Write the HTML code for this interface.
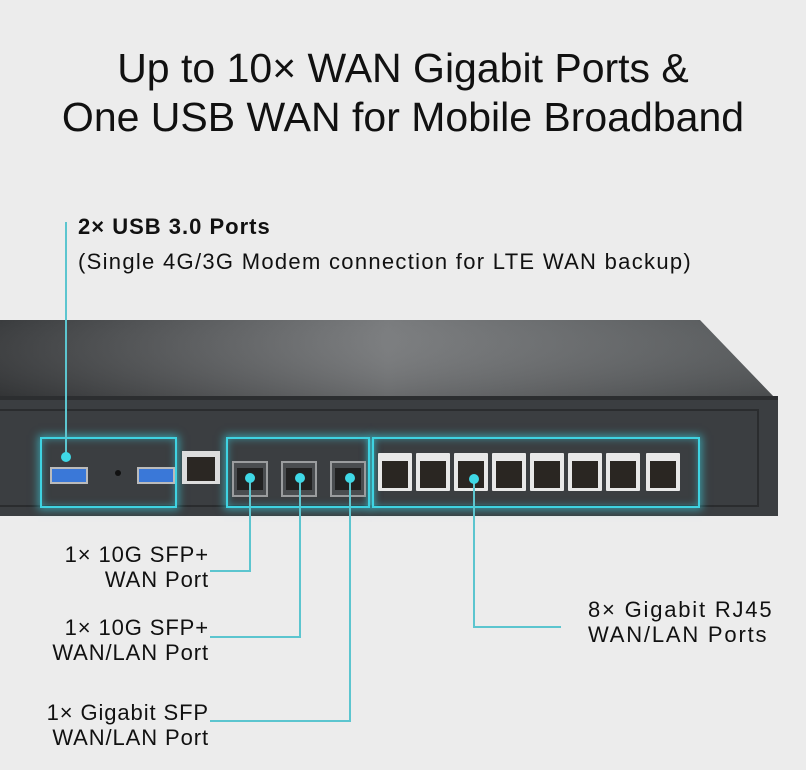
<!DOCTYPE html>
<html><head><meta charset="utf-8"><style>
body{margin:0;width:806px;height:770px;background:#ececec;font-family:"Liberation Sans",sans-serif;position:relative;overflow:hidden;color:#111}
.t{position:absolute;white-space:nowrap}
.ln{position:absolute;background:#5cc5cf}
.box{position:absolute;border:2px solid #3fd3e2;box-shadow:0 0 8px 2px rgba(60,210,225,.6),inset 0 0 8px rgba(60,210,225,.5)}
.dot{position:absolute;width:10px;height:10px;border-radius:50%;background:#3fd8e6}
.rj{position:absolute;top:453px;width:34px;height:38px;background:#e8e8e8;border-radius:1px}
.rj i{position:absolute;left:4px;top:8px;width:26px;height:27px;background:#2a2622}
.sfp{position:absolute;top:461px;width:36px;height:36px;background:#4a4d50;border:2px solid #9a9c9e;box-sizing:border-box}
.sfp i{position:absolute;left:3px;top:5px;width:26px;height:22px;background:#222}
.bl{font-size:22px;line-height:25px;text-align:right;letter-spacing:0.9px}
</style></head><body>
<div class="t" style="left:0;width:806px;text-align:center;top:44px;font-size:41px;line-height:49px">Up to 10× WAN Gigabit Ports &amp;<br>One USB WAN for Mobile Broadband</div>
<div class="t" style="left:78px;top:214px;font-size:22px;font-weight:bold;letter-spacing:1px">2× USB 3.0 Ports</div>
<div class="t" style="left:78px;top:249px;font-size:22px;letter-spacing:1.3px">(Single 4G/3G Modem connection for LTE WAN backup)</div>

<svg style="position:absolute;left:0;top:0" width="806" height="770">
<defs><linearGradient id="top" x1="0" y1="0" x2="1" y2="0"><stop offset="0" stop-color="#3a3c3e"/><stop offset=".5" stop-color="#7a7c7e"/><stop offset="1" stop-color="#55585a"/></linearGradient>
<linearGradient id="topv" x1="0" y1="0" x2="0" y2="1"><stop offset="0" stop-color="#fff" stop-opacity="0"/><stop offset="1" stop-color="#000" stop-opacity=".15"/></linearGradient></defs>
<polygon points="0,320 700,320 775,398 0,398" fill="url(#top)"/>
<polygon points="0,320 700,320 775,398 0,398" fill="url(#topv)"/>
<rect x="0" y="396" width="778" height="120" fill="#3b3e41"/>
<rect x="0" y="396" width="778" height="4" fill="#2c2e30"/>
<rect x="-2" y="410" width="760" height="96" fill="none" stroke="#2a2c2e" stroke-width="2"/>
</svg>

<div class="box" style="left:40px;top:437px;width:133px;height:67px"></div>
<div class="box" style="left:226px;top:437px;width:140px;height:67px"></div>
<div class="box" style="left:372px;top:437px;width:324px;height:67px"></div>

<div style="position:absolute;left:50px;top:467px;width:38px;height:17px;background:#3a78d8;border:2px solid #bbb;box-sizing:border-box"></div>
<div style="position:absolute;left:137px;top:467px;width:38px;height:17px;background:#3a78d8;border:2px solid #bbb;box-sizing:border-box"></div>
<div style="position:absolute;left:115px;top:470px;width:6px;height:6px;border-radius:50%;background:#111"></div>
<div style="position:absolute;left:182px;top:451px;width:38px;height:33px;background:#ddd"><i style="position:absolute;left:5px;top:6px;width:28px;height:24px;background:#2b2723"></i></div>

<div class="sfp" style="left:232px"><i></i></div>
<div class="sfp" style="left:281px"><i></i></div>
<div class="sfp" style="left:330px"><i></i></div>

<div class="rj" style="left:378px"><i></i></div>
<div class="rj" style="left:416px"><i></i></div>
<div class="rj" style="left:454px"><i></i></div>
<div class="rj" style="left:492px"><i></i></div>
<div class="rj" style="left:530px"><i></i></div>
<div class="rj" style="left:568px"><i></i></div>
<div class="rj" style="left:606px"><i></i></div>
<div class="rj" style="left:646px"><i></i></div>

<div class="ln" style="left:65px;top:222px;width:2px;height:235px"></div>
<div class="dot" style="left:61px;top:452px"></div>
<div class="ln" style="left:249px;top:478px;width:2px;height:94px"></div>
<div class="ln" style="left:210px;top:570px;width:41px;height:2px"></div>
<div class="dot" style="left:245px;top:473px"></div>
<div class="ln" style="left:299px;top:478px;width:2px;height:160px"></div>
<div class="ln" style="left:210px;top:636px;width:91px;height:2px"></div>
<div class="dot" style="left:295px;top:473px"></div>
<div class="ln" style="left:349px;top:478px;width:2px;height:244px"></div>
<div class="ln" style="left:210px;top:720px;width:141px;height:2px"></div>
<div class="dot" style="left:345px;top:473px"></div>
<div class="ln" style="left:473px;top:478px;width:2px;height:150px"></div>
<div class="ln" style="left:473px;top:626px;width:88px;height:2px"></div>
<div class="dot" style="left:469px;top:474px"></div>

<div class="t bl" style="right:597px;top:542px">1× 10G SFP+<br>WAN Port</div>
<div class="t bl" style="right:597px;top:615px">1× 10G SFP+<br>WAN/LAN Port</div>
<div class="t bl" style="right:597px;top:700px">1× Gigabit SFP<br>WAN/LAN Port</div>
<div class="t" style="left:588px;top:597px;font-size:22px;line-height:25px;letter-spacing:1.8px">8× Gigabit RJ45<br>WAN/LAN Ports</div>
</body></html>
